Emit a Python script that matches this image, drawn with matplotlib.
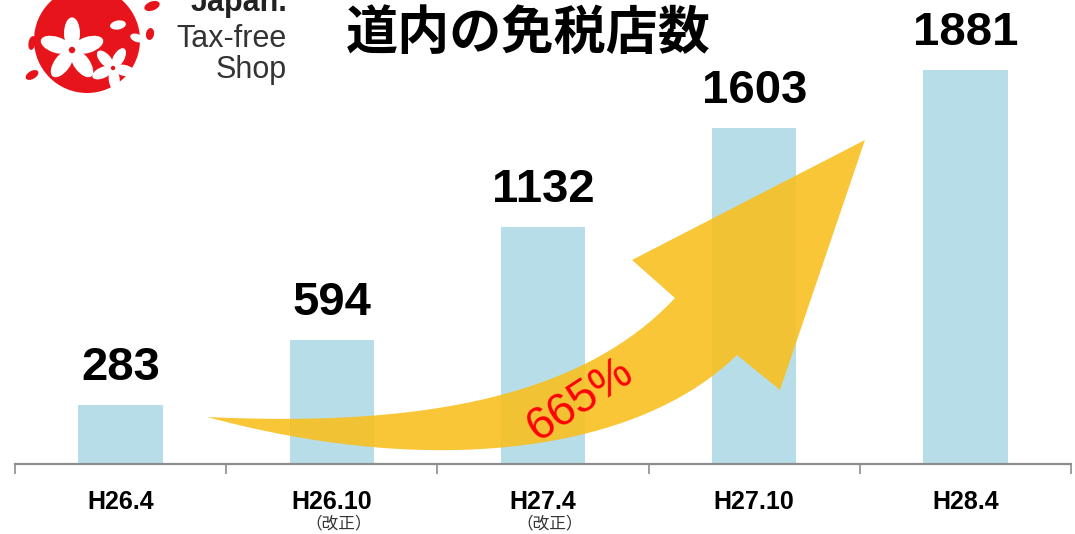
import numpy as np
import matplotlib
matplotlib.use("Agg")
import matplotlib.pyplot as plt
from matplotlib.path import Path
from matplotlib.patches import PathPatch, Circle, Ellipse
from matplotlib.transforms import Affine2D

# ---- data ----
categories = ["H26.4", "H26.10", "H27.4", "H27.10", "H28.4"]
sub_notes = ["", "（改正）", "（改正）", "", ""]
values = [283, 594, 1132, 1603, 1881]
title = "道内の免税店数"
growth_label = "665%"
logo_lines = ["Japan.", "Tax-free", "Shop"]

W, H = 1075, 534
fig = plt.figure(figsize=(W / 100, H / 100), dpi=100)
fig.patch.set_facecolor("white")

# pixel transform (origin top-left, y downward)
pix = Affine2D().scale(1 / W, -1 / H).translate(0, 1) + fig.transFigure

ax = fig.add_axes([15 / W, (H - 464) / H, (1071 - 15) / W, (464 - 3) / H])
ax.set_xlim(-0.5, len(categories) - 0.5)
ax.set_ylim(0, 2200)
x = np.arange(len(categories))
ax.bar(x, values, width=0.4, color="#B7DDE8", zorder=2)

for s in ["left", "top", "right"]:
    ax.spines[s].set_visible(False)
ax.spines["bottom"].set_color("#8C8C8C")
ax.spines["bottom"].set_linewidth(1.6)
ax.set_yticks([])
ax.set_xticks(np.arange(-0.5, len(categories), 1.0))
ax.set_xticklabels([])
ax.tick_params(axis="x", which="major", length=7.5, width=1.2, color="#8C8C8C", direction="out")
ax.set_xticks(x, minor=True)
ax.set_xticklabels(categories, minor=True, fontsize=18, fontweight="bold",
                   family=["Liberation Sans", "DejaVu Sans"])
ax.tick_params(axis="x", which="minor", length=0, pad=19)

for xi, note in zip(x, sub_notes):
    if note:
        ax.text(xi + 0.03, -0.131, note, transform=ax.get_xaxis_transform(), ha="center", va="center",
                fontsize=12, color="#333333", family=["Noto Sans CJK JP", "DejaVu Sans"])

for xi, v in zip(x, values):
    ax.annotate(str(v), (xi, v), xytext=(0, 18), textcoords="offset points", ha="center",
                va="baseline", fontsize=34, fontweight="bold", color="black",
                family=["Liberation Sans", "DejaVu Sans"], zorder=5)

# ---- curved arrow (decoration) ----
def bez(p0, p1, p2, p3, n=40):
    t = np.linspace(0, 1, n)[:, None]
    p0, p1, p2, p3 = map(np.array, (p0, p1, p2, p3))
    return (1 - t) ** 3 * p0 + 3 * (1 - t) ** 2 * t * p1 + 3 * (1 - t) * t ** 2 * p2 + t ** 3 * p3

upper = bez((207, 417), (400, 426), (575, 405), (675, 298))
lower = bez((737, 355), (640, 450), (440, 480), (207, 417))
head = np.array([(632, 260), (865, 140), (780, 390)])
pts = np.vstack([upper, head, lower])
arrow = PathPatch(Path(pts, closed=False), transform=pix, facecolor="#F8C020", edgecolor="none",
                  alpha=0.9, zorder=3, clip_on=False)
ax.add_patch(arrow)
fig.text(580 / W, 1 - 400 / H, growth_label, rotation=33, rotation_mode="anchor", ha="center",
         va="center", fontsize=33, color="#FF0000", family=["Liberation Sans", "DejaVu Sans"], zorder=6)

# ---- title ----
fig.text(528 / W, 1 - 33 / H, title, ha="center", va="center", fontsize=37.5, fontweight="bold",
         family=["Noto Sans CJK JP", "DejaVu Sans"], color="black")

# ---- logo ----
red = "#E8141C"
fig.patches.append(Circle((87, 40), 53, transform=pix, facecolor=red, edgecolor="none"))

def flower(cx, cy, r, rot, col="white"):
    for k in range(5):
        a = np.deg2rad(rot + k * 72)
        px, py = cx + 0.52 * r * np.cos(a), cy + 0.52 * r * np.sin(a)
        fig.patches.append(Ellipse((px, py), r * 1.0, r * 0.5, angle=np.rad2deg(a), transform=pix,
                                   facecolor=col, edgecolor="none"))
    fig.patches.append(Circle((cx, cy), r * 0.1, transform=pix, facecolor=red, edgecolor="none"))

flower(72, 50, 32, -90)
flower(113, 68, 22, -60)
for (cx, cy, w, h, ang, col) in [(118, 25, 9, 16, 80, "white"), (137, 38, 14, 8, 20, "white"),
                                 (152, 6, 16, 9, -20, red), (32, 75, 14, 8, -30, red),
                                 (32, 43, 7, 14, 10, red), (150, 34, 8, 12, 10, red)]:
    fig.patches.append(Ellipse((cx, cy), w, h, angle=ang, transform=pix, facecolor=col, edgecolor="none"))

fig.text(287 / W, 1 - 11 / H, logo_lines[0], ha="right", va="baseline", fontsize=22, fontweight="bold",
         color="#222222", family=["Liberation Sans", "DejaVu Sans"])
fig.text(287 / W, 1 - 47 / H, logo_lines[1], ha="right", va="baseline", fontsize=22,
         color="#333333", family=["Liberation Sans", "DejaVu Sans"])
fig.text(287 / W, 1 - 78 / H, logo_lines[2], ha="right", va="baseline", fontsize=22,
         color="#333333", family=["Liberation Sans", "DejaVu Sans"])

fig.savefig("out.png", dpi=100)
